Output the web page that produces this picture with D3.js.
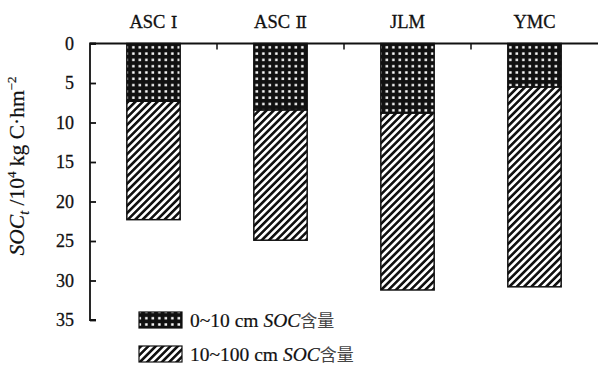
<!DOCTYPE html>
<html><head><meta charset="utf-8">
<script src="https://cdn.jsdelivr.net/npm/d3@7"></script>
<style>body{margin:0;background:#fff}svg{display:block}</style>
</head><body>
<svg id="c" width="598" height="387"></svg>
<script>
const categories = ["ASC Ⅰ", "ASC Ⅱ", "JLM", "YMC"];
const top10 = [7.3, 8.4, 8.8, 5.5];
const deep100 = [15.0, 16.5, 22.4, 25.3];
const yTicks = [0, 5, 10, 15, 20, 25, 30, 35];
const legendLabels = ["0~10 cm ", "10~100 cm "];

const svg = d3.select("#c");
const serif = "'Liberation Serif','Times New Roman',serif";
const x = d3.scaleBand().domain(categories).range([90, 598]).paddingInner(0.58).paddingOuter(0.29);
const y = d3.scaleLinear().domain([0, 35]).range([43.5, 320]);

const defs = svg.append("defs");
const pd = defs.append("pattern").attr("id", "dots").attr("patternUnits", "userSpaceOnUse")
  .attr("width", 6.5).attr("height", 6.3);
pd.append("rect").attr("width", 6.5).attr("height", 6.3).attr("fill", "#111");
pd.append("rect").attr("x", 2.1).attr("y", 2.0).attr("width", 2.5).attr("height", 2.4).attr("fill", "#fff");
const ph = defs.append("pattern").attr("id", "hatch").attr("patternUnits", "userSpaceOnUse")
  .attr("width", 5.2).attr("height", 5.2).attr("patternTransform", "rotate(45)");
ph.append("rect").attr("width", 5.2).attr("height", 5.2).attr("fill", "#fff");
ph.append("rect").attr("width", 2.6).attr("height", 5.2).attr("fill", "#111");

// bars
const g = svg.append("g");
categories.forEach((c, i) => {
  g.append("rect").attr("x", x(c)).attr("width", x.bandwidth())
    .attr("y", y(top10[i])).attr("height", y(top10[i] + deep100[i]) - y(top10[i]))
    .attr("fill", "url(#hatch)").attr("stroke", "#111").attr("stroke-width", 1.5);
  g.append("rect").attr("x", x(c)).attr("width", x.bandwidth())
    .attr("y", y(0)).attr("height", y(top10[i]) - y(0))
    .attr("fill", "url(#dots)").attr("stroke", "#111").attr("stroke-width", 1.5);
});

// left axis
const ya = svg.append("g").attr("transform", "translate(90,0)")
  .call(d3.axisRight(y).tickValues(yTicks).tickSize(6).tickFormat(""));
ya.selectAll("path,line").attr("stroke", "#111").attr("stroke-width", 1.8);
ya.select(".domain").attr("d", "M6,43.5H0V320H6");
svg.append("g").selectAll("text").data(yTicks).join("text")
  .attr("x", 74).attr("y", d => y(d)).attr("dy", "0.35em").attr("text-anchor", "end")
  .attr("font-family", serif).attr("font-size", 18).attr("fill", "#111")
  .attr("stroke", "#111").attr("stroke-width", 0.3).text(d => d);

// top axis
const xa = svg.append("g").attr("transform", "translate(0,43.5)");
xa.append("line").attr("x1", 90).attr("x2", 598).attr("y1", 0).attr("y2", 0)
  .attr("stroke", "#111").attr("stroke-width", 1.8);
const bounds = categories.slice(1).map(c => x(c) - x.step() * x.paddingInner() / 2);
xa.selectAll("line.t").data(bounds).join("line").attr("class", "t")
  .attr("x1", d => d).attr("x2", d => d).attr("y1", 0).attr("y2", 6)
  .attr("stroke", "#111").attr("stroke-width", 1.5);
const cl = svg.append("g").selectAll("text").data(categories).join("text")
  .attr("x", d => x(d) + x.bandwidth() / 2).attr("y", 28).attr("text-anchor", "middle")
  .attr("font-family", serif).attr("font-size", 18.5).attr("fill", "#111")
  .attr("stroke", "#111").attr("stroke-width", 0.3);
cl.each(function(d) {
  const parts = d.split(" ");
  const t = d3.select(this);
  t.append("tspan").text(parts[0]);
  if (parts[1]) t.append("tspan").attr("font-family", "'DejaVu Serif',serif").attr("font-size", 17).text(" " + parts[1]);
});

// y label
const yl = svg.append("text").attr("transform", "translate(24,166) rotate(-90)")
  .attr("text-anchor", "middle").attr("font-family", serif).attr("font-size", 21.5).attr("fill", "#111")
  .attr("stroke", "#111").attr("stroke-width", 0.2);
yl.append("tspan").attr("font-style", "italic").text("SOC");
yl.append("tspan").attr("font-style", "italic").attr("font-size", 14).attr("dy", 5).text("t");
yl.append("tspan").attr("dy", -5).text(" /10");
yl.append("tspan").attr("font-size", 13).attr("dy", -8).text("4");
yl.append("tspan").attr("dy", 8).text(" kg C·hm");
yl.append("tspan").attr("font-size", 13).attr("dy", -8).text("−2");

// legend
const fills = ["url(#dots)", "url(#hatch)"];
legendLabels.forEach((l, i) => {
  const ly = 312 + i * 34;
  svg.append("rect").attr("x", 139).attr("y", ly).attr("width", 43).attr("height", 16)
    .attr("fill", fills[i]).attr("stroke", "#111").attr("stroke-width", 1.2);
  const t = svg.append("text").attr("x", 190).attr("y", ly + 15)
    .attr("font-family", serif).attr("font-size", 19.5).attr("fill", "#111")
    .attr("stroke", "#111").attr("stroke-width", 0.2);
  t.append("tspan").text(l);
  t.append("tspan").attr("font-style", "italic").text("SOC");
  t.append("tspan").attr("font-family", "'Noto Sans CJK SC'").attr("font-size", 17).attr("fill", "#444")
    .attr("stroke", "none").text("含量");
});
</script>
</body></html>
